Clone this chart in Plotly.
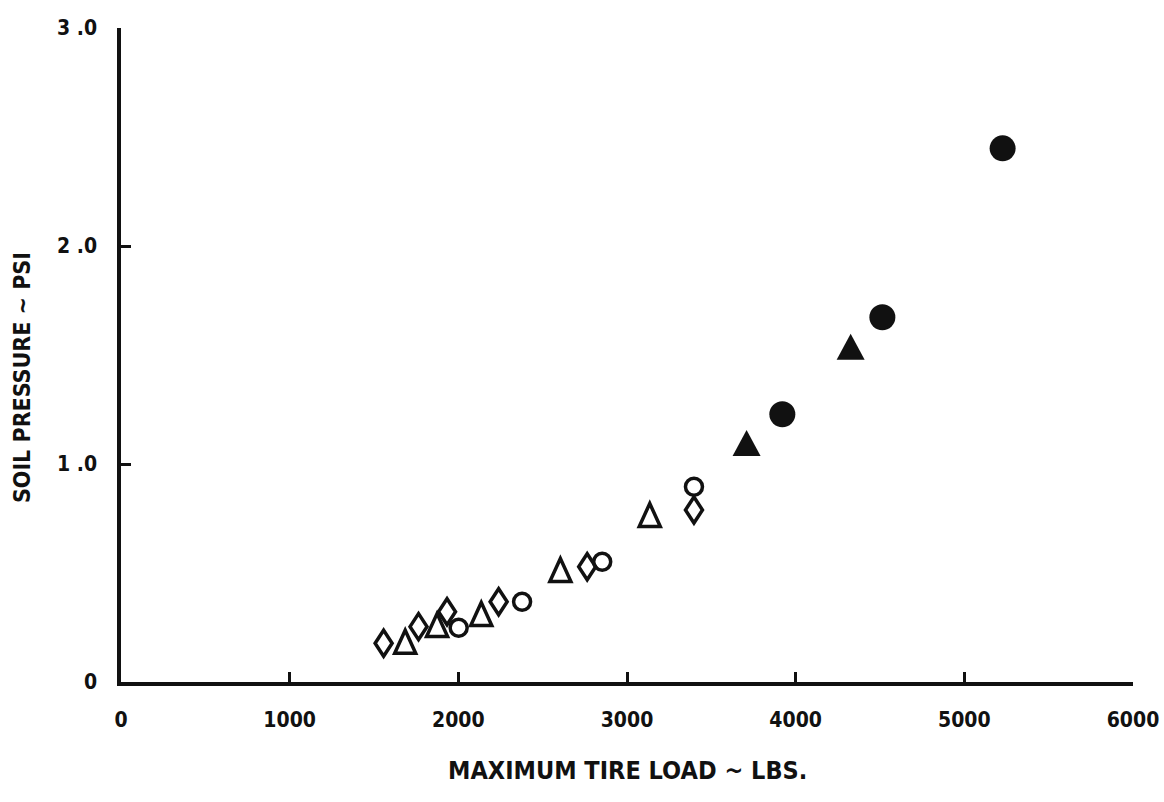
import plotly.graph_objects as go

# Maximum tire load (lbs) and soil pressure (psi), grouped by plotting symbol
open_diamond_load = [1557, 1764, 1933, 2239, 2764, 3397]
open_diamond_psi = [0.178, 0.254, 0.322, 0.368, 0.529, 0.789]

open_triangle_load = [1685, 1874, 2136, 2605, 3135]
open_triangle_psi = [0.185, 0.261, 0.312, 0.514, 0.766]

open_circle_load = [2002, 2378, 2853, 3397]
open_circle_psi = [0.249, 0.368, 0.552, 0.896]

filled_triangle_load = [3709, 4326]
filled_triangle_psi = [1.096, 1.538]

filled_circle_load = [3921, 4514, 5227]
filled_circle_psi = [1.228, 1.673, 2.448]

x_ticks = [0, 1000, 2000, 3000, 4000, 5000, 6000]
x_tick_text = ["0", "1000", "2000", "3000", "4000", "5000", "6000"]
y_ticks = [0, 1, 2, 3]
y_tick_text = ["0", "1 .0", "2 .0", "3 .0"]

INK = "#111111"
FONT = "DejaVu Sans Condensed, Liberation Sans Narrow, DejaVu Sans, sans-serif"

fig = go.Figure()

# Circles are ordinary scatter markers
fig.add_trace(go.Scatter(
    x=open_circle_load, y=open_circle_psi, mode="markers", cliponaxis=False,
    showlegend=False,
    marker=dict(symbol="circle-open", size=17, color=INK, line=dict(width=3.5)),
))
fig.add_trace(go.Scatter(
    x=filled_circle_load, y=filled_circle_psi, mode="markers", cliponaxis=False,
    showlegend=False,
    marker=dict(symbol="circle", size=26, color=INK, line=dict(width=0)),
))


# Triangles and tall diamonds: pixel-sized glyphs anchored at each data point
def glyph(points):
    return "M" + " L".join(f"{px},{py}" for px, py in points) + " Z"


def add_glyphs(xs, ys, outline, filled):
    for x, y in zip(xs, ys):
        fig.add_shape(
            type="path", xref="x", yref="y",
            xsizemode="pixel", ysizemode="pixel", xanchor=x, yanchor=y,
            path=glyph(outline),
            line=dict(color=INK, width=0 if filled else 3.5),
            fillcolor=INK if filled else "rgba(0,0,0,0)",
            layer="above",
        )


triangle_small = [(-10.5, -11.5), (10.5, -11.5), (0, 11.5)]
triangle_large = [(-14, -13), (14, -13), (0, 13)]
diamond_tall = [(0, -13), (8.5, 0), (0, 13), (-8.5, 0)]

add_glyphs(open_diamond_load, open_diamond_psi, diamond_tall, False)
add_glyphs(open_triangle_load, open_triangle_psi, triangle_small, False)
add_glyphs(filled_triangle_load, filled_triangle_psi, triangle_large, True)

axis_common = dict(
    showline=True, linecolor=INK, linewidth=3.5, mirror=False,
    showgrid=False, zeroline=False, automargin=False,
    ticks="inside", ticklen=10, tickwidth=2.5, tickcolor=INK,
    tickfont=dict(family=FONT, size=21, color=INK, weight="bold"),
)

fig.update_xaxes(range=[0, 6000], tickvals=x_ticks, ticktext=x_tick_text,
                 ticklabelstandoff=16, **axis_common)
fig.update_yaxes(range=[0, 3], tickvals=y_ticks, ticktext=y_tick_text,
                 ticklabelstandoff=16, **axis_common)

fig.add_annotation(
    text="MAXIMUM TIRE LOAD ~ LBS.", xref="paper", yref="paper",
    x=0.5, y=-0.1346, xanchor="center", yanchor="middle", showarrow=False,
    font=dict(family=FONT, size=25, color=INK, weight="bold"),
)
fig.add_annotation(
    text="SOIL PRESSURE ~ PSI", xref="paper", yref="paper",
    x=-0.098, y=0.466, xanchor="center", yanchor="middle", textangle=-90,
    showarrow=False,
    font=dict(family=FONT, size=23, color=INK, weight="bold"),
)

fig.update_layout(
    width=1164, height=802,
    margin=dict(l=121, r=31, t=28, b=120, autoexpand=False),
    paper_bgcolor="white", plot_bgcolor="white",
)

fig.write_html("out.html")
